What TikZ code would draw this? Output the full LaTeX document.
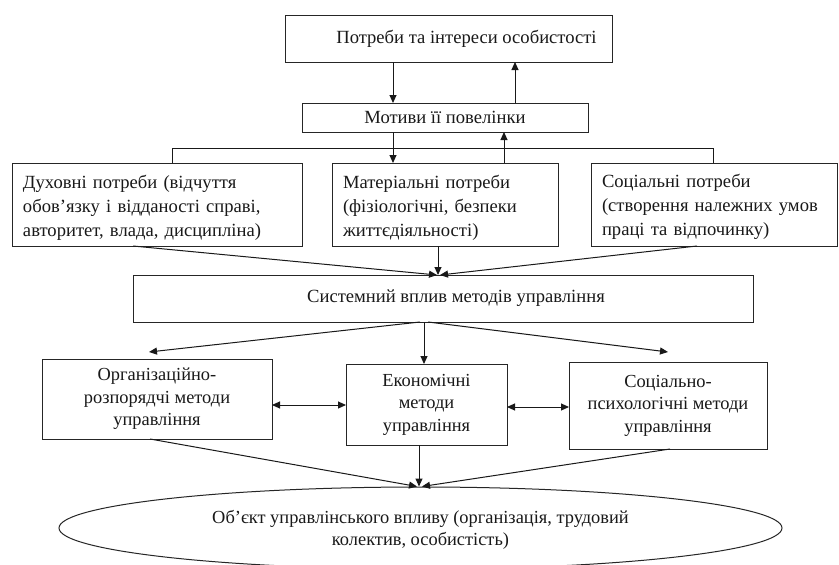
\documentclass[tikz,border=0pt]{standalone}
\usepackage{fontspec}
\setmainfont{Liberation Serif}
\usetikzlibrary{arrows.meta,shapes.geometric}
\begin{document}
\begin{tikzpicture}[x=1pt,y=-1pt,
  box/.style={draw=black!85, line width=1pt, rectangle, inner sep=0pt, outer sep=0pt,
    font=\fontsize{18.6}{24}\selectfont, text=black!90},
  lbox/.style={box, align=left, inner xsep=11pt, text width=#1},
  cbox/.style={box, align=center, font=\fontsize{18.4}{22.5}\selectfont},
  arr/.style={-{Triangle[length=8pt,width=7pt]}, line width=1pt, draw=black!90},
  darr/.style={{Triangle[length=8pt,width=7pt]}-{Triangle[length=8pt,width=7pt]}, line width=1pt, draw=black!90},
  ln/.style={line width=1pt, draw=black!90}]
\clip (0,0) rectangle (839,565);
\fill[white] (0,0) rectangle (839,565);
% nodes
\node[box, minimum width=327pt, minimum height=47pt] (top) at (448.5,38.5) {\hspace*{36pt}Потреби та інтереси особистості};
\node[box, minimum width=286pt, minimum height=29pt] (mot) at (445,117.5) {Мотиви її повелінки};
\node[lbox=268pt, minimum height=83pt] (duch) at (157,204.5) {\rule{0pt}{19pt}Духовні потреби (відчуття\\обов’язку і відданості справі,\\авторитет, влада, дисципліна)};
\node[lbox=204pt, minimum height=83pt] (mat) at (445,204.5) {\rule{0pt}{19pt}Матеріальні потреби\\(фізіологічні, безпеки\\життєдіяльності)};
\node[lbox=224pt, minimum height=83pt] (soc) at (714,204.5) {\rule{0pt}{19pt}Соціальні потреби\\(створення належних умов\\праці та відпочинку)};
\node[box, minimum width=620pt, minimum height=47pt] (sys) at (443,298.5) {\hspace*{26pt}Системний вплив методів управління};
\node[cbox, minimum width=230pt, minimum height=80pt] (org) at (157,399) {Організаційно-\\розпорядчі методи\\управління};
\node[cbox, minimum width=161pt, minimum height=81pt] (econ) at (426.5,404.5) {Економічні\\методи\\управління};
\node[cbox, minimum width=198pt, minimum height=87pt] (sp) at (668,405.5) {Соціально-\\психологічні методи\\управління};
\node[draw=black!85, line width=1pt, ellipse, inner sep=0pt, minimum width=723pt, minimum height=82pt,
  align=center, font=\fontsize{18.4}{21.5}\selectfont, text=black!90] (ell) at (420.5,528) {\rule{0pt}{17pt}Об’єкт управлінського впливу (організація, трудовий\\колектив, особистість)};
% helper coordinates
\coordinate (x393) at (393,0);
\coordinate (x515) at (515,0);
\coordinate (x504) at (504,0);
\coordinate (xl) at (172,0);
\coordinate (xr) at (713,0);
\coordinate (yb) at (0,148);
\coordinate (x133) at (133,0);
\coordinate (x437) at (437,0);
\coordinate (x438) at (438,0);
\coordinate (x440) at (440,0);
\coordinate (x697) at (697,0);
\coordinate (x420) at (420,0);
\coordinate (x424) at (424,0);
\coordinate (x428) at (428,0);
\coordinate (tipL) at (149,352);
\coordinate (tipR) at (668,352);
\coordinate (y405) at (0,405);
\coordinate (y407) at (0,407);
\coordinate (x150) at (150,0);
\coordinate (x417) at (417,0);
\coordinate (x419) at (419,0);
\coordinate (x422) at (422,0);
\coordinate (x670) at (670,0);
% connectors
\draw[arr] (top.south -| x393) -- (mot.north -| x393);
\draw[arr] (mot.north -| x515) -- (top.south -| x515);
\draw[arr] (mot.south -| x393) -- (mat.north -| x393);
\draw[arr] (mat.north -| x504) -- (mot.south -| x504);
\draw[ln] (duch.north -| xl) |- (yb -| xr) -- (soc.north -| xr);
\draw[arr] (duch.south -| x133) -- (sys.north -| x437);
\draw[arr] (mat.south -| x438) -- (sys.north -| x438);
\draw[arr] (soc.south -| x697) -- (sys.north -| x440);
\draw[arr] (sys.south -| x420) -- (tipL);
\draw[arr] (sys.south -| x424) -- (econ.north -| x424);
\draw[arr] (sys.south -| x428) -- (tipR);
\draw[darr] (org.east |- y405) -- (econ.west |- y405);
\draw[darr] (econ.east |- y407) -- (sp.west |- y407);
\draw[arr] (org.south -| x150) -- (ell.north -| x417);
\draw[arr] (econ.south -| x419) -- (ell.north -| x419);
\draw[arr] (sp.south -| x670) -- (ell.north -| x422);
\end{tikzpicture}
\end{document}
